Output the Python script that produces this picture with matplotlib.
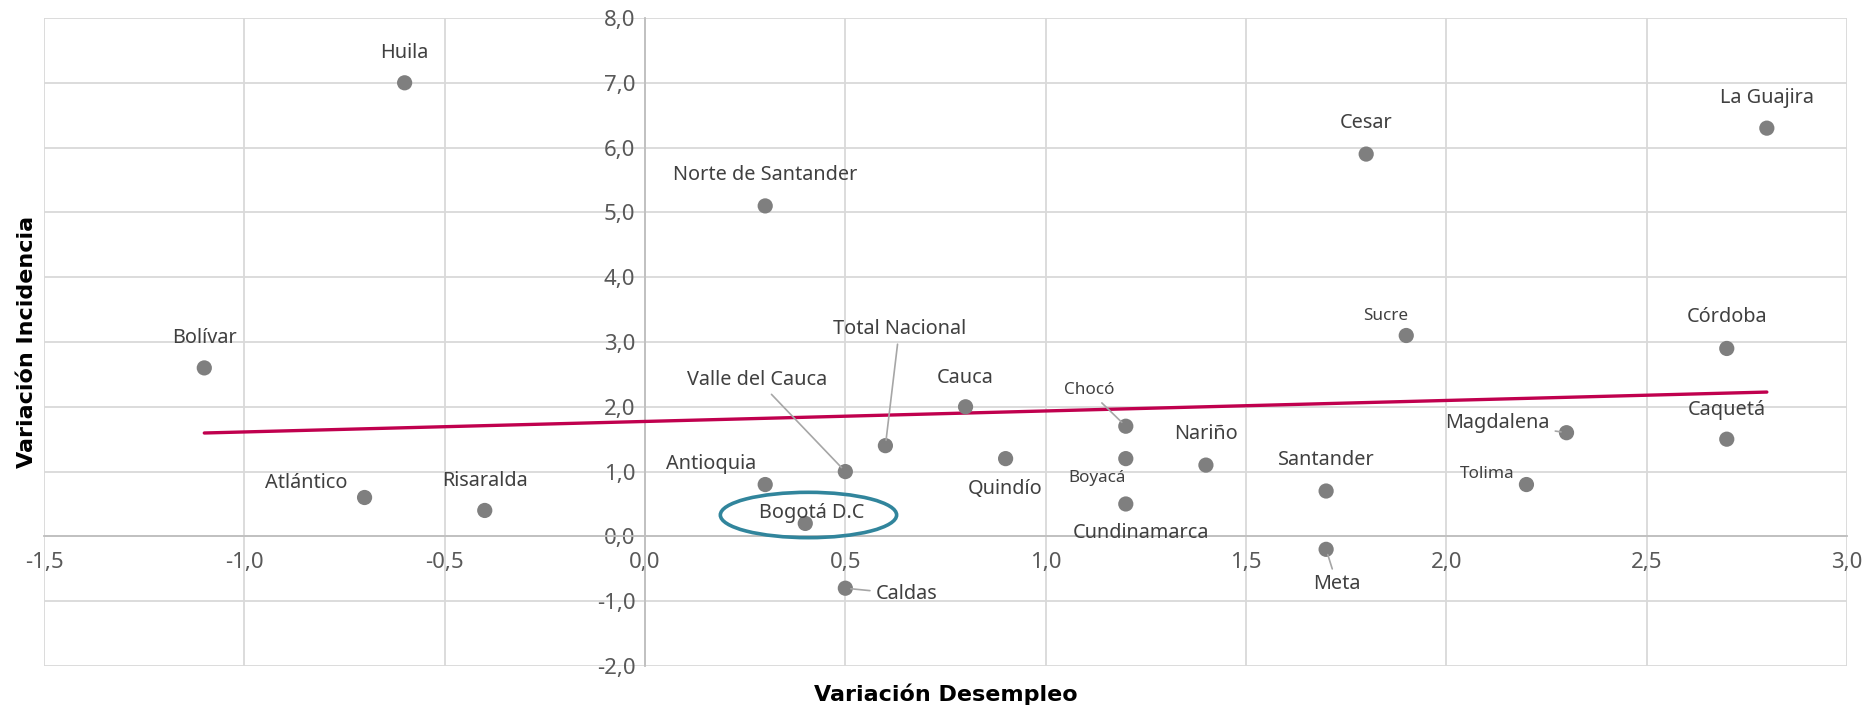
import numpy as np
import matplotlib.pyplot as plt
from matplotlib.patches import Ellipse

plt.rcParams['font.family'] = ['Noto Sans', 'DejaVu Sans']

# departamento, variacion desempleo (x), variacion incidencia (y)
deptos = ['Huila', 'Bolívar', 'Atlántico', 'Risaralda', 'Norte de Santander',
          'Antioquia', 'Bogotá D.C', 'Valle del Cauca', 'Caldas', 'Total Nacional',
          'Cauca', 'Quindío', 'Chocó', 'Boyacá', 'Cundinamarca', 'Nariño',
          'Santander', 'Meta', 'Cesar', 'Sucre', 'Tolima', 'Magdalena',
          'Córdoba', 'Caquetá', 'La Guajira']
desempleo = [-0.6, -1.1, -0.7, -0.4, 0.3, 0.3, 0.4, 0.5, 0.5, 0.6, 0.8, 0.9,
             1.2, 1.2, 1.2, 1.4, 1.7, 1.7, 1.8, 1.9, 2.2, 2.3, 2.7, 2.7, 2.8]
incidencia = [7.0, 2.6, 0.6, 0.4, 5.1, 0.8, 0.2, 1.0, -0.8, 1.4, 2.0, 1.2,
              1.7, 1.2, 0.5, 1.1, 0.7, -0.2, 5.9, 3.1, 0.8, 1.6, 2.9, 1.5, 6.3]

xticks = [-1.5, -1.0, -0.5, 0.0, 0.5, 1.0, 1.5, 2.0, 2.5, 3.0]
yticks = [-2, -1, 0, 1, 2, 3, 4, 5, 6, 7, 8]

# label placement (offset in pixels, font size, leader line)
big, small = 14.3, 12.3
label_pos = {
    'Huila': (0, 30, big, False), 'Bolívar': (0, 30, big, False),
    'Atlántico': (-58, 14, big, False), 'Risaralda': (0, 29, big, False),
    'Norte de Santander': (0, 31, big, False), 'Antioquia': (-54, 21, big, False),
    'Bogotá D.C': (6, 10, big, False), 'Valle del Cauca': (-88, 92, big, True),
    'Caldas': (61, -6, big, True), 'Total Nacional': (14, 117, big, True),
    'Cauca': (0, 29, big, False), 'Quindío': (0, -30, big, False),
    'Chocó': (-37, 36, small, True), 'Boyacá': (-29, -19, small, False),
    'Cundinamarca': (15, -29, big, False), 'Nariño': (0, 31, big, False),
    'Santander': (0, 31, big, False), 'Meta': (11, -35, big, True),
    'Cesar': (0, 31, big, False), 'Sucre': (-21, 20, small, False),
    'Tolima': (-39, 11, small, False), 'Magdalena': (-69, 10, big, True),
    'Córdoba': (0, 31, big, False), 'Caquetá': (0, 29, big, False),
    'La Guajira': (0, 30, big, False),
}

fig = plt.figure(figsize=(18.66, 7.06), dpi=100)
ax = fig.add_axes([0.0236, 0.0567, 0.9662, 0.9178])

ax.set_xlim(-1.5, 3.0)
ax.set_ylim(-2, 8)
ax.set_xticks(xticks)
ax.set_yticks(yticks)
ax.set_xticklabels([f'{t:.1f}'.replace('.', ',') for t in xticks])
ax.set_yticklabels([f'{t:.1f}'.replace('.', ',') for t in yticks])

ax.grid(True, color='#d9d9d9', linewidth=1.3, zorder=0)
for gl in ax.get_xgridlines() + ax.get_ygridlines():
    gl.set_clip_on(False)

for s in ['top', 'right']:
    ax.spines[s].set_visible(False)
ax.spines['left'].set_position(('data', 0))
ax.spines['bottom'].set_position(('data', 0))
ax.spines['left'].set_color('#bfbfbf')
ax.spines['bottom'].set_color('#bfbfbf')
ax.spines['left'].set_linewidth(1.3)
ax.spines['bottom'].set_linewidth(1.3)
ax.tick_params(axis='both', length=0, labelsize=16, labelcolor='#595959')
ax.tick_params(axis='x', pad=11)
ax.tick_params(axis='y', pad=7)

# trend line
coef = np.polyfit(desempleo, incidencia, 1)
xs = np.array([min(desempleo), max(desempleo)])
ax.plot(xs, np.polyval(coef, xs), color='#c0004e', linewidth=2.4,
        solid_capstyle='round', zorder=3)

ax.scatter(desempleo, incidencia, s=120, color='#7f7f7f', zorder=4,
           edgecolors='none')

for name, x, y in zip(deptos, desempleo, incidencia):
    dx, dy, fs, leader = label_pos[name]
    arrow = None
    if leader:
        arrow = dict(arrowstyle='-', color='#a6a6a6', linewidth=1.2,
                     shrinkA=2, shrinkB=4)
    ax.annotate(name, (x, y), xytext=(dx, dy), textcoords='offset pixels',
                ha='center', va='center', fontsize=fs, color='#404040',
                arrowprops=arrow, zorder=5)

# highlight Bogotá
ax.add_patch(Ellipse((0.408, 0.33), 0.44, 0.70, fill=False,
                     edgecolor='#31859c', linewidth=2.6, zorder=6))

ax.set_xlabel('Variación Desempleo', fontsize=16, fontweight='bold',
              family='DejaVu Sans', color='black')
ax.set_ylabel('Variación Incidencia', fontsize=16, fontweight='bold',
              family='DejaVu Sans', color='black')
ax.xaxis.set_label_coords(0.5, -0.027)
ax.yaxis.set_label_coords(-0.004, 0.5)

plt.savefig('out.png', dpi=100)
